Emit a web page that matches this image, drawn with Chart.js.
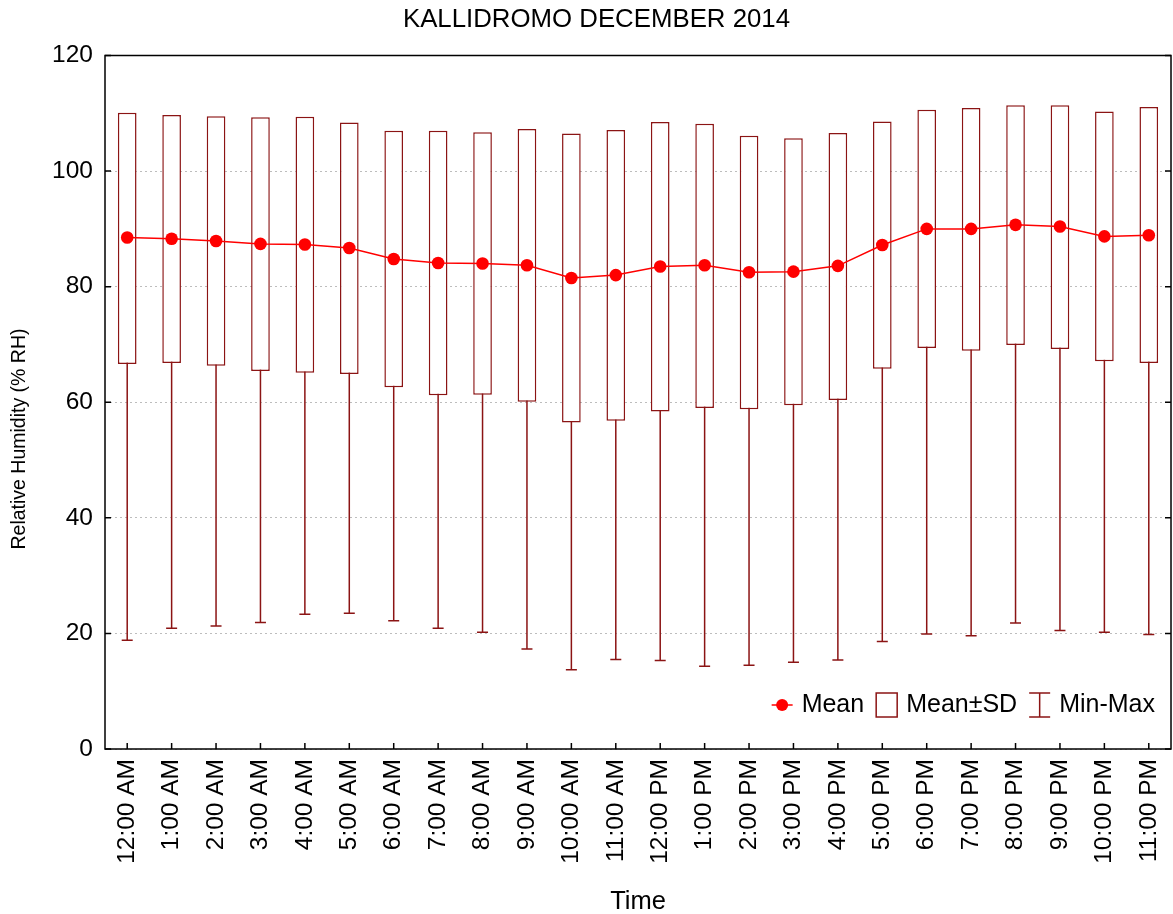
<!DOCTYPE html>
<html>
<head>
<meta charset="utf-8">
<title>KALLIDROMO DECEMBER 2014</title>
<script src="https://cdn.jsdelivr.net/npm/chart.js@4.4.1/dist/chart.umd.min.js"></script>
<style>
    html, body { margin: 0; padding: 0; background: #fff; }
    #wrap { width: 1173px; height: 914px; }
</style>
</head>
<body>
<div id="wrap"><canvas id="rhChart" width="1173" height="914"></canvas></div>
<script>
// hourly relative humidity, December 2014
var hours = ["12:00 AM", "1:00 AM", "2:00 AM", "3:00 AM", "4:00 AM", "5:00 AM",
    "6:00 AM", "7:00 AM", "8:00 AM", "9:00 AM", "10:00 AM", "11:00 AM",
    "12:00 PM", "1:00 PM", "2:00 PM", "3:00 PM", "4:00 PM", "5:00 PM",
    "6:00 PM", "7:00 PM", "8:00 PM", "9:00 PM", "10:00 PM", "11:00 PM"];
var meanRH = [88.5, 88.3, 87.9, 87.4, 87.3, 86.7, 84.8, 84.1, 84.0, 83.7, 81.5, 82.0,
    83.5, 83.7, 82.5, 82.6, 83.6, 87.2, 90.0, 90.0, 90.7, 90.4, 88.7, 88.9];
var meanMinusSD = [66.6, 66.8, 66.3, 65.4, 65.1, 64.9, 62.6, 61.2, 61.3, 60.1, 56.5, 56.8,
    58.4, 59.0, 58.8, 59.5, 60.4, 65.8, 69.4, 68.9, 69.9, 69.2, 67.1, 66.8];
var meanPlusSD = [110.1, 109.7, 109.5, 109.3, 109.4, 108.4, 107.0, 107.0, 106.7, 107.3, 106.5, 107.1,
    108.5, 108.2, 106.1, 105.7, 106.6, 108.6, 110.6, 110.9, 111.4, 111.4, 110.3, 111.1];
var minRH = [18.8, 20.9, 21.3, 21.9, 23.3, 23.5, 22.2, 20.9, 20.2, 17.3, 13.7, 15.5,
    15.3, 14.3, 14.5, 15.0, 15.4, 18.6, 19.9, 19.6, 21.8, 20.5, 20.2, 19.8];
var maxRH = [100, 100, 100, 100, 100, 100, 100, 100, 100, 100, 100, 100,
    100, 100, 100, 100, 100, 100, 100, 100, 100, 100, 100, 100];
var yTicks = [0, 20, 40, 60, 80, 100, 120];

var boxColor = '#8b1414';
var meanColor = '#ff0000';
var fontFamily = '"Liberation Sans", Arial, Helvetica, sans-serif';

// min-max whiskers, drawn under the boxes
var whiskerPlugin = {
    id: 'whiskers',
    beforeDatasetsDraw: function(chart) {
        var ctx = chart.ctx;
        var x = chart.scales.x, y = chart.scales.y;
        ctx.save();
        ctx.strokeStyle = boxColor;
        ctx.lineWidth = 1.5;
        for (var i = 0; i < hours.length; i++) {
            var px = x.getPixelForValue(i);
            var yMin = y.getPixelForValue(minRH[i]);
            var yMax = y.getPixelForValue(maxRH[i]);
            ctx.beginPath();
            ctx.moveTo(px, yMin);
            ctx.lineTo(px, yMax);
            ctx.moveTo(px - 5.5, yMin);
            ctx.lineTo(px + 5.5, yMin);
            ctx.moveTo(px - 5.5, yMax);
            ctx.lineTo(px + 5.5, yMax);
            ctx.stroke();
        }
        ctx.restore();
    }
};

// box frame with inward ticks, plus title and y axis title
var framePlugin = {
    id: 'frame',
    afterDraw: function(chart) {
        var ctx = chart.ctx, a = chart.chartArea;
        var x = chart.scales.x, y = chart.scales.y;
        ctx.save();
        ctx.strokeStyle = '#000';
        ctx.lineWidth = 1.5;
        ctx.strokeRect(a.left, a.top, a.right - a.left, a.bottom - a.top);
        ctx.beginPath();
        yTicks.forEach(function(v) {
            var py = y.getPixelForValue(v);
            ctx.moveTo(a.left, py);
            ctx.lineTo(a.left + 6, py);
            ctx.moveTo(a.right, py);
            ctx.lineTo(a.right - 6, py);
        });
        for (var i = 0; i < hours.length; i++) {
            var px = x.getPixelForValue(i);
            ctx.moveTo(px, a.bottom);
            ctx.lineTo(px, a.bottom - 6);
        }
        ctx.stroke();

        ctx.fillStyle = '#000';
        ctx.textAlign = 'center';
        ctx.textBaseline = 'middle';
        ctx.font = '25.8px ' + fontFamily;
        ctx.fillText('KALLIDROMO DECEMBER 2014', 596.5, 20);

        ctx.translate(20, 439);
        ctx.rotate(-Math.PI / 2);
        ctx.font = '19.5px ' + fontFamily;
        ctx.fillText('Relative Humidity (% RH)', 0, 0);
        ctx.restore();
    }
};

// legend inside the plot, bottom right
var legendPlugin = {
    id: 'statLegend',
    afterDraw: function(chart) {
        var ctx = chart.ctx, a = chart.chartArea;
        ctx.save();
        ctx.font = '25px ' + fontFamily;
        ctx.textBaseline = 'middle';
        ctx.fillStyle = '#000';
        var cy = a.bottom - 44;
        var labels = ['Mean', 'Mean\u00b1SD', 'Min-Max'];
        var sym = 21, gapSym = 9, gapItem = 12;
        var total = 0;
        labels.forEach(function(t, i) {
            total += sym + gapSym + ctx.measureText(t).width + (i < 2 ? gapItem : 0);
        });
        var cx = a.right - 16 - total;

        // Mean: line with dot
        ctx.strokeStyle = meanColor;
        ctx.lineWidth = 1.5;
        ctx.beginPath();
        ctx.moveTo(cx, cy);
        ctx.lineTo(cx + sym, cy);
        ctx.stroke();
        ctx.fillStyle = meanColor;
        ctx.beginPath();
        ctx.arc(cx + sym / 2, cy, 6, 0, Math.PI * 2);
        ctx.fill();
        cx += sym + gapSym;
        ctx.fillStyle = '#000';
        ctx.fillText(labels[0], cx, cy);
        cx += ctx.measureText(labels[0]).width + gapItem;

        // Mean±SD: open box
        ctx.strokeStyle = boxColor;
        ctx.strokeRect(cx, cy - 12, sym, 24);
        cx += sym + gapSym;
        ctx.fillText(labels[1], cx, cy);
        cx += ctx.measureText(labels[1]).width + gapItem;

        // Min-Max: whisker
        var mx = cx + sym / 2;
        ctx.beginPath();
        ctx.moveTo(mx, cy - 12);
        ctx.lineTo(mx, cy + 12);
        ctx.moveTo(cx, cy - 12);
        ctx.lineTo(cx + sym, cy - 12);
        ctx.moveTo(cx, cy + 12);
        ctx.lineTo(cx + sym, cy + 12);
        ctx.stroke();
        cx += sym + gapSym;
        ctx.fillText(labels[2], cx, cy);
        ctx.restore();
    }
};

var boxData = hours.map(function(h, i) {
    return [meanMinusSD[i], meanPlusSD[i]];
});

new Chart(document.getElementById('rhChart'), {
    data: {
        labels: hours,
        datasets: [{
            type: 'line',
            label: 'Mean',
            data: meanRH,
            borderColor: meanColor,
            backgroundColor: meanColor,
            borderWidth: 1.5,
            pointRadius: 6.3,
            pointHoverRadius: 6.3,
            pointBorderWidth: 0,
            pointBackgroundColor: meanColor,
            tension: 0,
            order: 0
        }, {
            type: 'bar',
            label: 'Mean\u00b1SD',
            data: boxData,
            backgroundColor: '#ffffff',
            borderColor: boxColor,
            borderWidth: 1.5,
            borderSkipped: false,
            barPercentage: 0.42,
            categoryPercentage: 1.0,
            order: 1
        }]
    },
    options: {
        responsive: false,
        animation: false,
        devicePixelRatio: 1,
        layout: {
            autoPadding: false,
            padding: { left: 0, right: 2, top: 55.5, bottom: 0 }
        },
        plugins: {
            legend: { display: false },
            tooltip: { enabled: false },
            title: { display: false }
        },
        scales: {
            x: {
                offset: true,
                grid: { display: false, drawTicks: false },
                border: { display: false },
                ticks: {
                    color: '#000',
                    font: { family: fontFamily, size: 24.5 },
                    minRotation: 90,
                    maxRotation: 90,
                    padding: 10,
                    autoSkip: false
                },
                title: {
                    display: true,
                    text: 'Time',
                    color: '#000',
                    font: { family: fontFamily, size: 25.5 },
                    padding: { top: 0, bottom: -3 }
                },
                afterFit: function(scale) {
                    scale.height = 165;
                    scale.paddingLeft = 0;
                    scale.paddingRight = 0;
                }
            },
            y: {
                min: 0,
                max: 120,
                grid: {
                    color: '#bdbdbd',
                    lineWidth: 1,
                    drawTicks: false
                },
                border: { display: false, dash: [2, 3] },
                ticks: {
                    stepSize: 20,
                    color: '#000',
                    font: { family: fontFamily, size: 24.5 },
                    padding: 12
                },
                afterFit: function(scale) {
                    scale.width = 105;
                }
            }
        }
    },
    plugins: [whiskerPlugin, framePlugin, legendPlugin]
});
</script>
</body>
</html>
